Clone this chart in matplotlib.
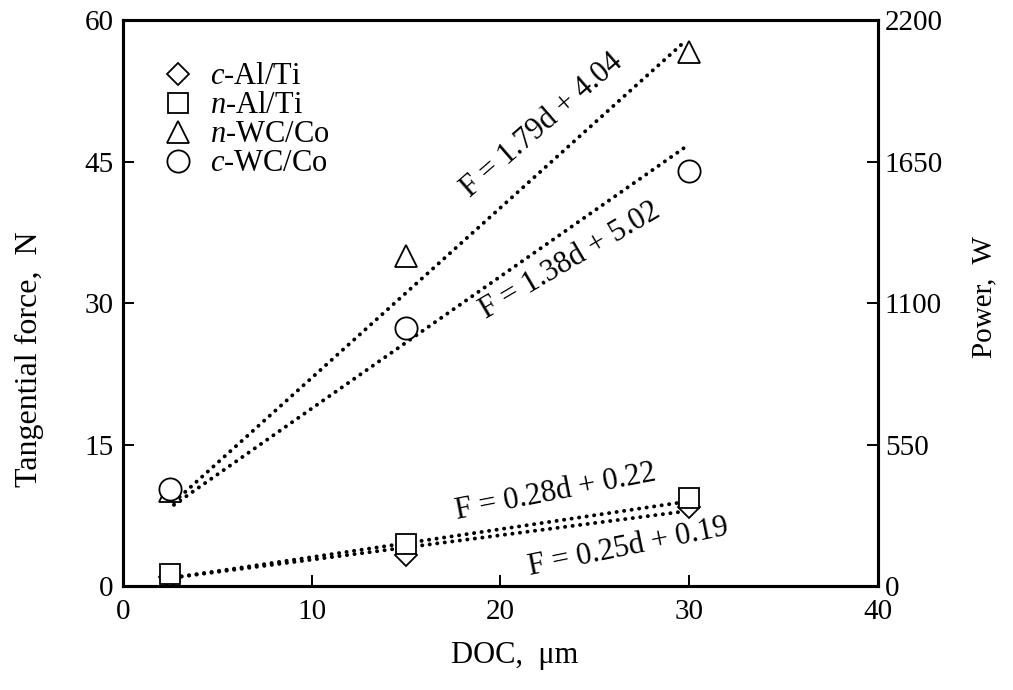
import numpy as np
import matplotlib
matplotlib.use("Agg")
import matplotlib.pyplot as plt

plt.rcParams['font.family'] = ['Liberation Serif', 'DejaVu Serif']
plt.rcParams['mathtext.fontset'] = 'custom'
plt.rcParams['mathtext.rm'] = 'Liberation Serif'
plt.rcParams['mathtext.it'] = 'Liberation Serif:italic'

# data
doc = [2.5, 15, 30]
c_alti = [1.0, 3.3, 8.4]
n_alti = [1.3, 4.5, 9.3]
n_wcco = [10.1, 35.0, 56.6]
c_wcco = [10.3, 27.3, 44.0]

# fit lines (end points)
fit_x = [2.7, 29.7]
fit_n_wcco = [8.9, 57.6]
fit_c_wcco = [8.6, 46.4]
fit_n_alti = [0.9, 8.9]
fit_c_alti = [0.9, 7.9]

fit_labels = ["F = 1.79d + 4.04", "F = 1.38d + 5.02",
              "F = 0.28d + 0.22", "F = 0.25d + 0.19"]
label_pos = [(22.2, 48.8), (23.7, 34.5), (22.9, 9.9), (26.8, 4.1)]
label_rot = [41, 30.5, 11, 11.5]

fs = 21

fig = plt.figure(figsize=(10.13, 6.9), dpi=100)
ax = fig.add_axes([0.1214, 0.1507, 0.7453, 0.8203])

dot = dict(color='black', lw=2.8, linestyle=(0, (0.05, 1.9)),
           dash_capstyle='round', zorder=2)
for fy in [fit_n_wcco, fit_c_wcco, fit_n_alti, fit_c_alti]:
    ax.plot(fit_x, fy, **dot)

mk = dict(ls='none', mfc='white', mec='black', mew=1.3, zorder=3)
ax.plot(doc, c_alti, marker='D', ms=11, label='$c$-Al/Ti', **mk)
ax.plot(doc, n_alti, marker='s', ms=15, label='$n$-Al/Ti', **mk)
ax.plot(doc, n_wcco, marker='^', ms=15.5, label='$n$-WC/Co', **mk)
ax.plot(doc, c_wcco, marker='o', ms=16, label='$c$-WC/Co', **mk)

for t, (x, y), r in zip(fit_labels, label_pos, label_rot):
    ax.text(x, y, t, rotation=r, ha='center', va='center', fontsize=22,
            rotation_mode='anchor')

ax.set_xlim(0, 40)
ax.set_ylim(0, 60)
ax.set_xticks([0, 10, 20, 30, 40])
ax.set_yticks([0, 15, 30, 45, 60])
ax.tick_params(direction='in', length=8, width=1.4, labelsize=fs, top=False)
ax.tick_params(axis='x', pad=9)
ax.tick_params(axis='y', pad=7)
ax.set_xlabel('DOC,  μm', fontsize=22)
ax.xaxis.set_label_coords(0.519, -0.097)
ax.set_ylabel('Tangential force,  N', fontsize=23)
ax.yaxis.set_label_coords(-0.104, 0.40)
for s in ax.spines.values():
    s.set_linewidth(2.2)

ax2 = ax.twinx()
ax2.set_ylim(0, 2200)
ax2.set_yticks([0, 550, 1100, 1650, 2200])
ax2.tick_params(direction='in', length=8, width=1.4, labelsize=fs, pad=5)
ax2.set_ylabel('Power,  W', fontsize=fs)
ax2.yaxis.set_label_coords(1.124, 0.51)
for s in ax2.spines.values():
    s.set_linewidth(2.2)

leg = ax.legend(loc='upper left', bbox_to_anchor=(0.052, 0.925), frameon=False,
                fontsize=22, labelspacing=0.0, handletextpad=0.55,
                handlelength=1.0, borderaxespad=0, borderpad=0)

fig.savefig('out.png', dpi=100)
